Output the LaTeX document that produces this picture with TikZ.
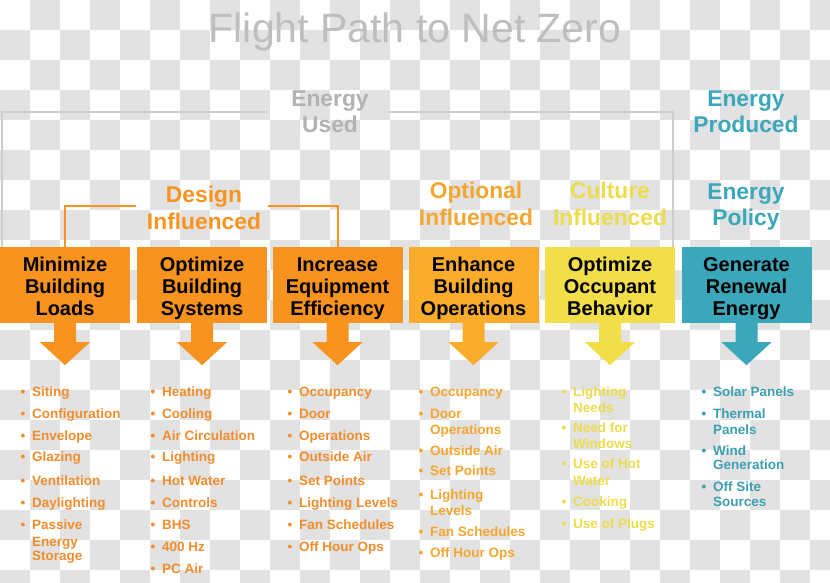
\documentclass[tikz,border=0pt]{standalone}
\usepackage{fontspec}
\setmainfont{Liberation Sans}
\definecolor{chk}{RGB}{226,226,226}
\definecolor{titlegray}{RGB}{190,190,190}
\definecolor{usedgray}{RGB}{178,178,178}
\definecolor{framegray}{RGB}{205,205,205}
\definecolor{boxorange}{RGB}{247,147,30}
\definecolor{boxamber}{RGB}{250,172,42}
\definecolor{boxyellow}{RGB}{242,222,72}
\definecolor{boxteal}{RGB}{58,168,186}
\definecolor{txtorange}{RGB}{241,141,45}
\definecolor{txtamber}{RGB}{245,166,48}
\definecolor{txtyellow}{RGB}{237,220,75}
\definecolor{txtteal}{RGB}{60,160,178}
\tikzset{
  bigbox/.style={rectangle, minimum width=130pt, minimum height=76pt, inner sep=0pt,
    align=center, font=\fontsize{20}{22}\selectfont\bfseries, text=black},
  hdr/.style={anchor=base, inner sep=0pt, font=\fontsize{22.8}{26}\selectfont\bfseries},
  bul/.style={anchor=base, inner sep=0pt, font=\fontsize{13.5}{15}\selectfont\bfseries},
  itm/.style={anchor=base west, inner sep=0pt, font=\fontsize{13.5}{15}\selectfont\bfseries},
}
\newcommand{\topstrut}{\rule{0pt}{21pt}}
\newcommand{\botstrut}{\rule[-5pt]{0pt}{5pt}}
\newcommand{\threelines}[3]{\topstrut#1\\#2\\#3\botstrut}
\newcommand{\downarrowshape}[2]{%
  \fill[#2, shift={(#1.south)}] (-11,0) -- (-11,19) -- (-25,19) -- (0,42) -- (25,19) -- (11,19) -- (11,0) -- cycle;}
\newcommand{\itemcol}[4]{% name, bullet x, color, list
  \foreach \yy/\txt/\bb [count=\k] in #4 {
    \ifnum\bb=1 \node[bul, text=#3] (#1b\k) at (#2,\yy) {•};\fi
    \node[itm, text=#3] (#1t\k) at (#2+9,\yy) {\txt};
  }}
\begin{document}
\begin{tikzpicture}[x=1pt,y=-1pt]
\useasboundingbox (0,0) rectangle (830,583);
\fill[white] (0,0) rectangle (830,583);
\foreach \i in {0,...,27}{\foreach \j in {0,...,19}{
  \pgfmathtruncatemacro{\parity}{mod(\i+\j,2)}
  \ifnum\parity=1 \fill[chk] (\i*30,\j*30) rectangle ++(30,30);\fi
}}
% title
\node[anchor=base, inner sep=0pt, text=titlegray, font=\fontsize{41}{41}\selectfont] (title) at (415,43) {Flight Path to Net Zero};
% energy used frame
\coordinate (fl) at (267,112);
\coordinate (fr) at (388,112);
\draw[framegray, line width=1.5pt] (2,247) -- (2,112) -- (fl);
\draw[framegray, line width=1.5pt] (fr) -- (673,112) -- (673,247);
\node[hdr, text=usedgray] (eu1) at (330,107) {Energy};
\node[hdr, text=usedgray] (eu2) at (330,133) {Used};
\node[hdr, text=boxteal] (ep1) at (746,107) {Energy};
\node[hdr, text=boxteal] (ep2) at (746,133) {Produced};
% category headers
\node[hdr, text=boxorange] (di1) at (204,202) {Design};
\node[hdr, text=boxorange] (di2) at (204,229) {Influenced};
\node[hdr, text=txtamber] (oi1) at (476,198) {Optional};
\node[hdr, text=txtamber] (oi2) at (476,225) {Influenced};
\node[hdr, text=txtyellow] (ci1) at (610,198) {Culture};
\node[hdr, text=txtyellow] (ci2) at (610,225) {Influenced};
\node[hdr, text=boxteal] (pp1) at (746,199) {Energy};
\node[hdr, text=boxteal] (pp2) at (746,225) {Policy};
% boxes
\node[bigbox, fill=boxorange] (b1) at (65,285) {\threelines{Minimize}{Building}{Loads}};
\node[bigbox, fill=boxorange] (b2) at (202,285) {\threelines{Optimize}{Building}{Systems}};
\node[bigbox, fill=boxorange] (b3) at (337.5,285) {\threelines{Increase}{Equipment}{Efficiency}};
\node[bigbox, fill=boxamber] (b4) at (473.5,285) {\threelines{Enhance}{Building}{Operations}};
\node[bigbox, fill=boxyellow] (b5) at (610,285) {\threelines{Optimize}{Occupant}{Behavior}};
\node[bigbox, fill=boxteal] (b6) at (746.5,285) {\threelines{Generate}{Renewal}{Energy}};
% design bracket
\coordinate (dl) at (136,206);
\coordinate (dr) at (268,206);
\draw[boxorange, line width=2pt] (b1.north) |- (dl);
\draw[boxorange, line width=2pt] (b3.north) |- (dr);
% arrows
\downarrowshape{b1}{boxorange}
\downarrowshape{b2}{boxorange}
\downarrowshape{b3}{boxorange}
\downarrowshape{b4}{boxamber}
\downarrowshape{b5}{boxyellow}
\downarrowshape{b6}{boxteal}
% lists
\itemcol{ca}{23}{txtorange}{{396/Siting/1,418/Configuration/1,440/Envelope/1,461/Glazing/1,485/Ventilation/1,507/Daylighting/1,529/Passive/1,546/Energy/0,560/Storage/0}}
\itemcol{cb}{153}{txtorange}{{396/Heating/1,418/Cooling/1,440/Air Circulation/1,461/Lighting/1,485/Hot Water/1,507/Controls/1,529/BHS/1,551/400 Hz/1,573/PC Air/1}}
\itemcol{cc}{290}{txtorange}{{396/Occupancy/1,418/Door/1,440/Operations/1,461/Outside Air/1,485/Set Points/1,507/Lighting Levels/1,529/Fan Schedules/1,551/Off Hour Ops/1}}
\itemcol{cd}{421}{txtamber}{{396/Occupancy/1,418/Door/1,434/Operations/0,455/Outside Air/1,475/Set Points/1,499/Lighting/1,515/Levels/0,536/Fan Schedules/1,557/Off Hour Ops/1}}
\itemcol{ce}{564}{txtyellow}{{396/Lighting/1,412/Needs/0,432/Need for/1,448/Windows/0,468/Use of Hot/1,485/Water/0,506/Cooking/1,528/Use of Plugs/1}}
\itemcol{cf}{704}{txtteal}{{396/Solar Panels/1,418/Thermal/1,434/Panels/0,455/Wind/1,469/Generation/0,491/Off Site/1,506/Sources/0}}
\end{tikzpicture}
\end{document}
